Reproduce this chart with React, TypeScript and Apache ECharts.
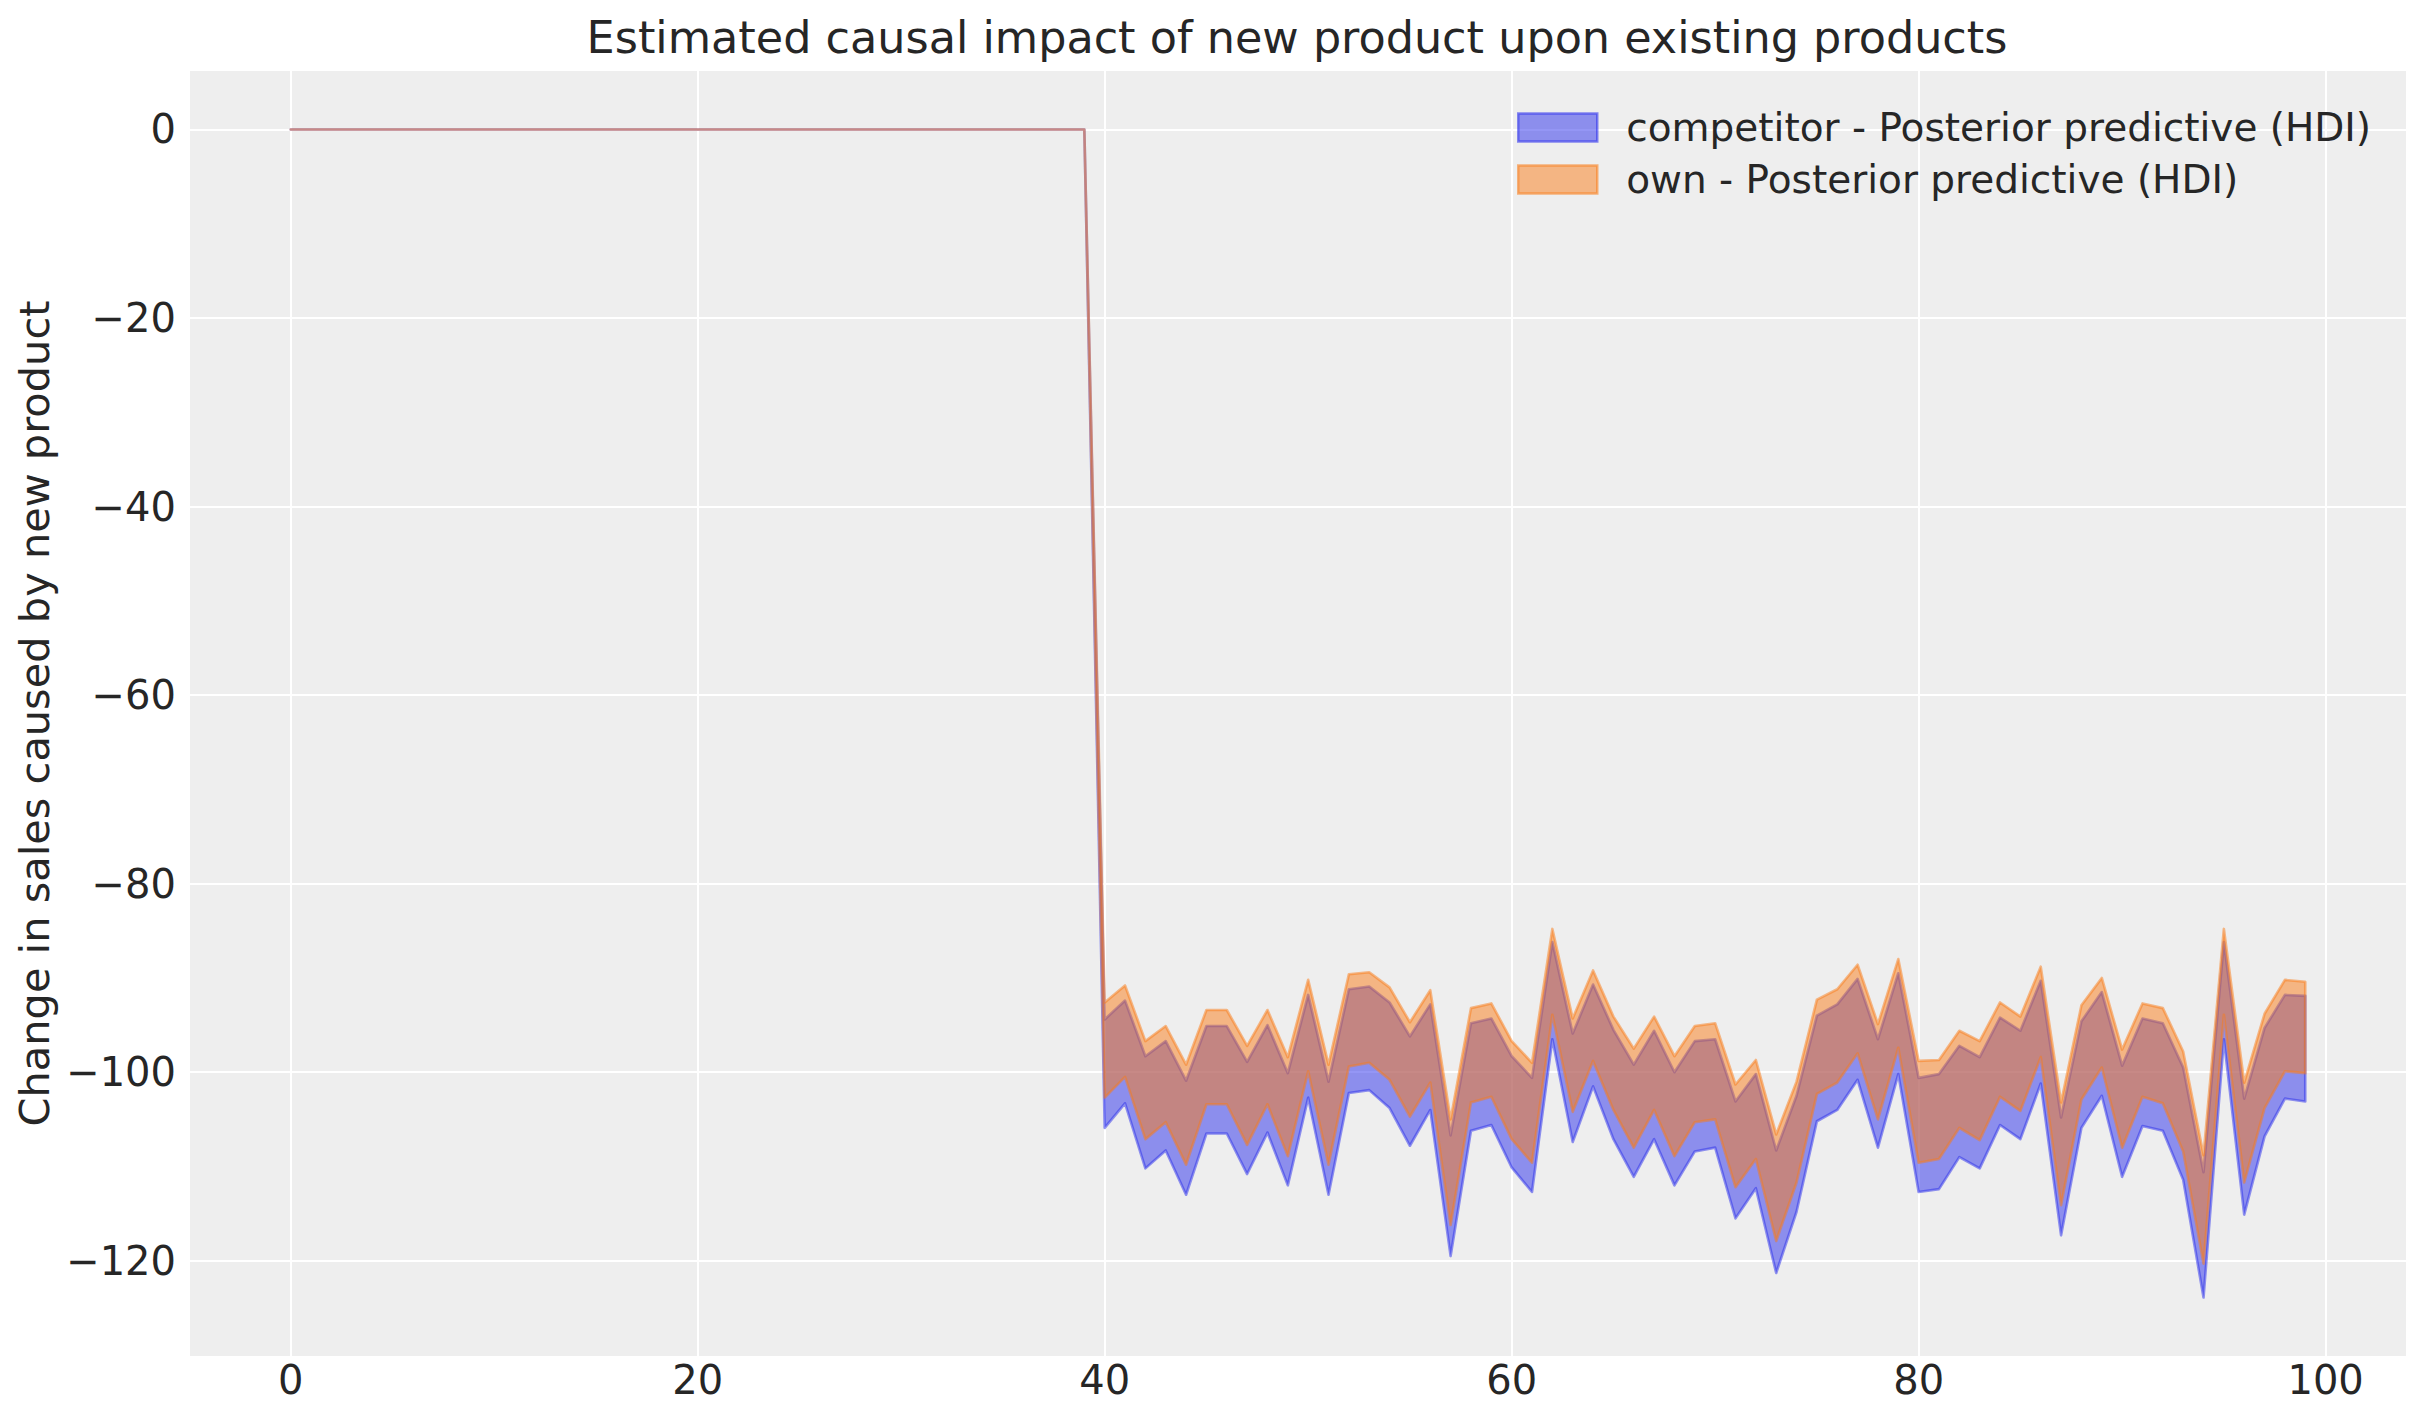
import React, { useEffect, useRef } from "react";
import * as echarts from "echarts";

// Pre-period (days 0..39): no impact
const preImpact = [
  0, 0, 0, 0, 0, 0, 0, 0, 0, 0,
  0, 0, 0, 0, 0, 0, 0, 0, 0, 0,
  0, 0, 0, 0, 0, 0, 0, 0, 0, 0,
  0, 0, 0, 0, 0, 0, 0, 0, 0, 0,
];

// Post-period (days 40..99) HDI bounds
const ownUpper = [
  -92.6, -90.8, -96.7, -95.1, -99.2, -93.4, -93.4, -97.2, -93.4, -98.4,
  -90.2, -99.2, -89.6, -89.4, -91.0, -94.7, -91.3, -105.0, -93.2, -92.7,
  -96.7, -99.0, -84.8, -94.3, -89.2, -94.1, -97.5, -94.1, -98.3, -95.1,
  -94.8, -101.3, -98.7, -106.6, -101.0, -92.3, -91.2, -88.6, -94.9, -88.0,
  -98.8, -98.7, -95.6, -96.7, -92.6, -94.1, -88.8, -103.2, -92.9, -90.0,
  -97.6, -92.7, -93.2, -97.8, -108.8, -84.8, -101.1, -93.8, -90.2, -90.4,
];
const ownLower = [
  -102.7, -100.5, -107.1, -105.3, -109.8, -103.4, -103.4, -107.7, -103.4, -108.9,
  -99.9, -109.8, -99.4, -99.0, -100.8, -104.7, -101.1, -116.2, -103.2, -102.6,
  -107.1, -109.6, -93.9, -104.2, -98.8, -104.0, -108.0, -104.0, -108.9, -105.3,
  -105.0, -112.2, -109.2, -117.9, -111.7, -102.3, -101.1, -98.0, -105.0, -97.4,
  -109.6, -109.2, -105.9, -107.2, -102.6, -104.1, -98.4, -114.1, -102.9, -99.5,
  -108.0, -102.6, -103.3, -108.4, -120.3, -93.9, -111.7, -103.8, -99.9, -100.1,
];
const compUpper = [
  -94.4, -92.4, -98.3, -96.7, -100.9, -95.1, -95.1, -98.9, -95.0, -100.1,
  -91.8, -101.0, -91.2, -90.9, -92.6, -96.2, -92.8, -106.7, -94.8, -94.3,
  -98.3, -100.6, -86.2, -95.9, -90.7, -95.5, -99.2, -95.6, -100.0, -96.7,
  -96.5, -103.1, -100.2, -108.3, -102.5, -94.0, -92.8, -90.1, -96.5, -89.5,
  -100.6, -100.2, -97.2, -98.4, -94.2, -95.6, -90.3, -104.8, -94.6, -91.5,
  -99.3, -94.3, -94.8, -99.5, -110.6, -86.2, -102.8, -95.3, -91.8, -91.9,
];
const compLower = [
  -105.9, -103.3, -110.2, -108.3, -113.0, -106.5, -106.5, -110.8, -106.4, -112.0,
  -102.7, -113.0, -102.2, -101.9, -103.8, -107.8, -104.0, -119.5, -106.2, -105.6,
  -110.1, -112.7, -96.5, -107.4, -101.5, -107.1, -111.1, -107.1, -112.0, -108.4,
  -108.0, -115.5, -112.3, -121.3, -114.8, -105.2, -104.0, -100.8, -108.0, -100.2,
  -112.7, -112.4, -109.0, -110.2, -105.6, -107.1, -101.2, -117.3, -105.9, -102.5,
  -111.1, -105.7, -106.2, -111.4, -123.9, -96.5, -115.1, -106.8, -102.8, -103.1,
];

const xTicks = [0, 20, 40, 60, 80, 100];
const yTicks = [-120, -100, -80, -60, -40, -20, 0];

const TITLE = "Estimated causal impact of new product upon existing products";
const Y_NAME = "Change in sales caused by new product";
const COMP_NAME = "competitor - Posterior predictive (HDI)";
const OWN_NAME = "own - Posterior predictive (HDI)";

const BLUE = "42,46,236";
const ORANGE = "250,124,23";
const FONT = "DejaVu Sans";
const TEXT = "#262626";

// Band polygon (fill + edge, like matplotlib fill_between) via the axes' scales
function bandSeries(name: string, lower: number[], upper: number[], rgb: string, z: number) {
  const lo = preImpact.concat(lower);
  const hi = preImpact.concat(upper);
  const data = hi.map((v, i) => [i, lo[i], v]);
  return {
    name,
    type: "custom",
    coordinateSystem: "cartesian2d",
    silent: true,
    z,
    clip: true,
    encode: { x: 0, y: [1, 2] },
    itemStyle: { color: `rgba(${rgb},0.5)` },
    data,
    renderItem: (params: any, api: any) => {
      if (params.dataIndexInside !== 0) return null;
      const n = params.dataInsideLength;
      const top: number[][] = [];
      const bottom: number[][] = [];
      for (let k = 0; k < n; k++) {
        const x = api.value(0, k);
        top.push(api.coord([x, api.value(2, k)]));
        bottom.push(api.coord([x, api.value(1, k)]));
      }
      const points = top.concat(bottom.reverse());
      return {
        type: "polygon",
        shape: { points },
        style: {
          fill: `rgba(${rgb},0.5)`,
          stroke: `rgba(${rgb},0.5)`,
          lineWidth: 2.6,
          lineJoin: "round",
        },
      };
    },
  };
}

const fmt = (v: number) => String(v).replace("-", "\u2212");

export default function App() {
  const ref = useRef<HTMLDivElement>(null);
  useEffect(() => {
    if (!ref.current) return;
    const chart = echarts.init(ref.current, undefined, { renderer: "svg" });
    chart.setOption({
      animation: false,
      backgroundColor: "#ffffff",
      textStyle: { fontFamily: FONT, color: TEXT },
      title: {
        text: TITLE,
        left: 1292,
        top: 10,
        textAlign: "center",
        textStyle: { fontFamily: FONT, fontSize: 44.5, fontWeight: "normal", color: TEXT },
      },
      legend: {
        data: [
          { name: COMP_NAME, itemStyle: { color: `rgba(${BLUE},0.5)`, borderColor: `rgba(${BLUE},0.55)`, borderWidth: 2.5 } },
          { name: OWN_NAME, itemStyle: { color: `rgba(${ORANGE},0.5)`, borderColor: `rgba(${ORANGE},0.55)`, borderWidth: 2.5 } },
        ],
        orient: "vertical",
        left: 1517,
        top: 108,
        padding: 0,
        icon: "rect",
        itemWidth: 79,
        itemHeight: 28,
        itemGap: 13,
        selectedMode: false,
        textStyle: { fontFamily: FONT, fontSize: 39, color: TEXT, lineHeight: 28, padding: [0, 0, 0, 24] },
      },
      grid: { left: 190, right: 17, top: 71, bottom: 67, backgroundColor: "#eeeeee", show: true, borderWidth: 0 },
      xAxis: {
        type: "value",
        min: -4.95,
        max: 103.95,
        axisLine: { show: false },
        axisTick: { show: false, customValues: xTicks },
        axisLabel: {
          customValues: xTicks,
          formatter: fmt,
          fontFamily: FONT,
          fontSize: 40,
          color: TEXT,
          margin: 4,
        },
        splitLine: { show: true, lineStyle: { color: "#ffffff", width: 2 } },
      },
      yAxis: {
        type: "value",
        min: -130.1,
        max: 6.2,
        name: Y_NAME,
        nameLocation: "middle",
        nameGap: 124,
        nameTextStyle: { fontFamily: FONT, fontSize: 41.5, color: TEXT },
        axisLine: { show: false },
        axisTick: { show: false, customValues: yTicks },
        axisLabel: {
          customValues: yTicks,
          formatter: fmt,
          fontFamily: FONT,
          fontSize: 40,
          color: TEXT,
          margin: 14,
        },
        splitLine: { show: true, lineStyle: { color: "#ffffff", width: 2 } },
      },
      series: [
        bandSeries(COMP_NAME, compLower, compUpper, BLUE, 2),
        bandSeries(OWN_NAME, ownLower, ownUpper, ORANGE, 3),
      ],
    });
    return () => chart.dispose();
  }, []);
  return (
    <div
      ref={ref}
      style={{ position: "fixed", left: 0, top: 0, width: 2423, height: 1423 }}
    />
  );
}
